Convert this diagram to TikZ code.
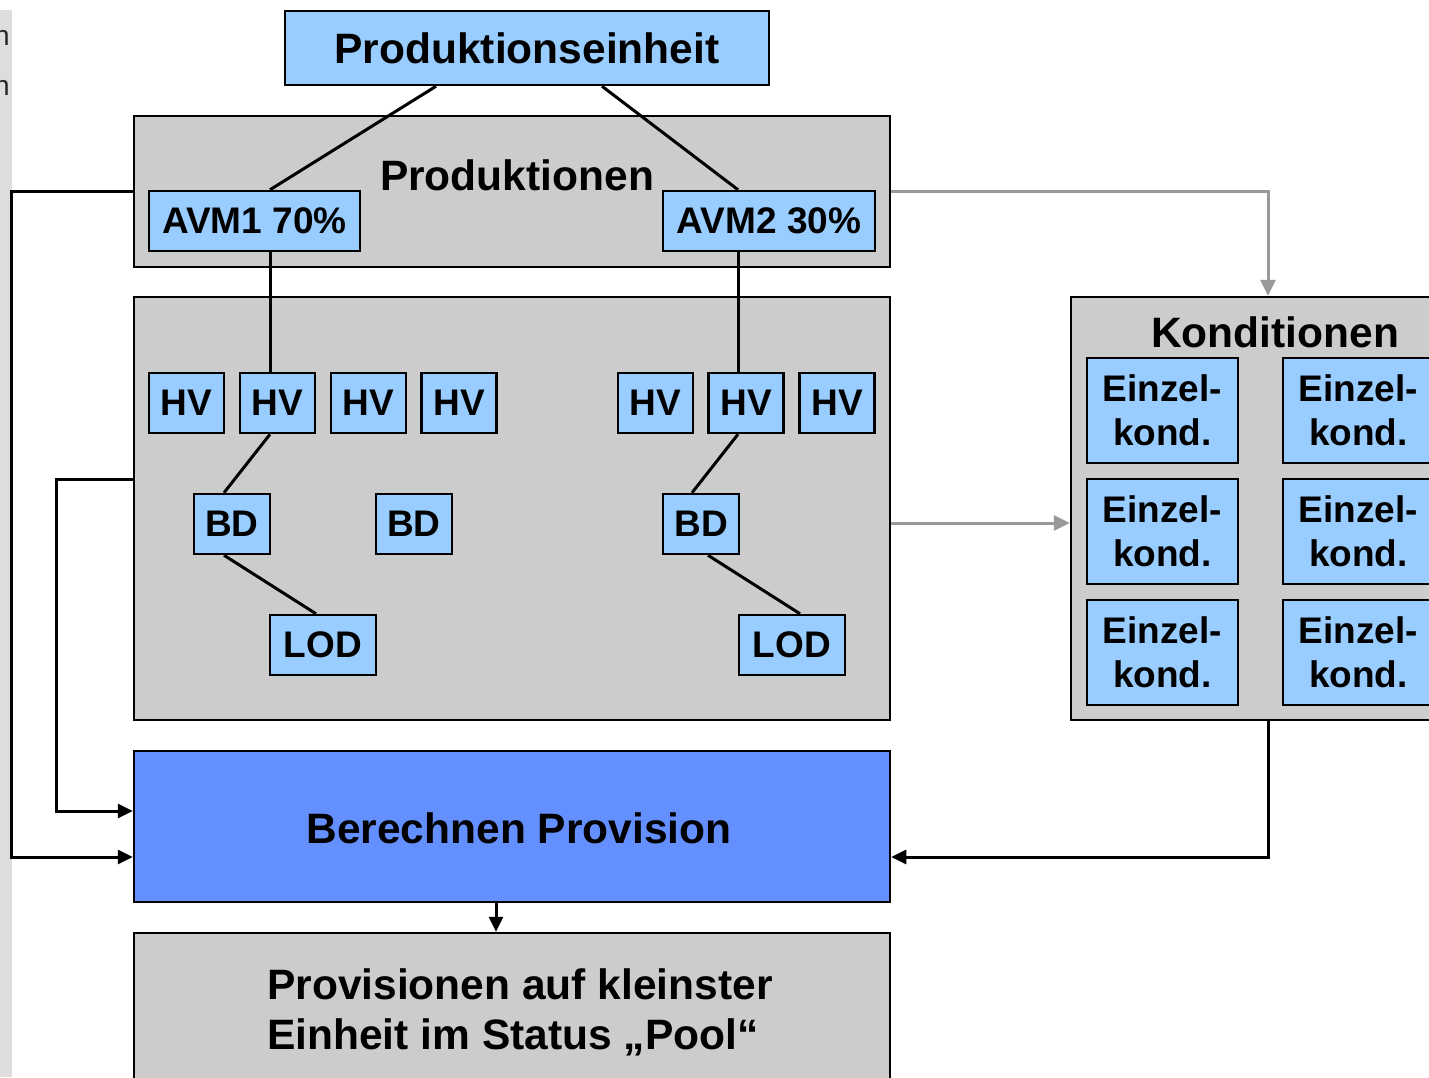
\documentclass[tikz,border=0pt]{standalone}
\usepackage{fontspec}
\setmainfont{Liberation Sans}
\usetikzlibrary{arrows.meta}
\definecolor{hellblau}{HTML}{99CCFF}
\definecolor{grau}{HTML}{CCCCCC}
\definecolor{blau}{HTML}{648FFF}
\definecolor{pfeilgrau}{HTML}{999999}
\definecolor{streifen}{HTML}{DDDDDD}
\begin{document}
\begin{tikzpicture}[x=1pt, y=-1pt, line join=miter, font=\bfseries\fontsize{42.5}{50}\selectfont,
		kasten/.style={draw, line width=2.5pt, fill=hellblau, inner sep=0pt, minimum height=60pt, font=\bfseries\fontsize{37}{44}\selectfont},
		behaelter/.style={draw, line width=2.5pt, fill=grau, inner sep=0pt},
		linie/.style={line width=3pt},
		pfeil/.style={line width=3pt, -{Triangle[length=15pt,width=14pt]}},
		graupfeil/.style={line width=3pt, pfeilgrau, -{Triangle[length=16pt,width=15pt]}}]
			\useasboundingbox (0,0) rectangle (1429,1077);
			\fill[white] (0,0) rectangle (1429,1077);
			\fill[streifen] (0,10) rectangle (12,1077);
			\node[anchor=base east, inner sep=0pt, font=\fontsize{28}{30}\selectfont, text=black!85] (na) at (10,45) {n};
			\node[anchor=base east, inner sep=0pt, font=\fontsize{28}{30}\selectfont, text=black!85] (nb) at (10,95) {n};
			% Behaelter
			\node[behaelter, minimum width=756pt, minimum height=151pt] (prods) at (512,191.5) {};
			\node[behaelter, minimum width=756pt, minimum height=423pt] (struk) at (512,508.5) {};
			\node[behaelter, minimum width=408pt, minimum height=423pt] (kond) at (1275,508.5) {};
			\node[behaelter, fill=blau, minimum width=756pt, minimum height=151pt] (berech) at (512,826.5) {};
			\node[behaelter, minimum width=756pt, minimum height=220pt] (pool) at (512,1043) {};
			\node[anchor=base, inner sep=0pt] (prodtext) at (517,190) {Produktionen};
			\node[anchor=base, inner sep=0pt] (kondtext) at (1275,347) {Konditionen};
			\node[anchor=base, inner sep=0pt] (berechtext) at (519,843) {Berechnen Provision};
			\node[anchor=north west, inner sep=0pt, align=left] (pooltext) at (267,968) {Provisionen auf kleinster\\Einheit im Status „Pool“};
			% Kaesten
			\node[kasten, minimum width=484pt, minimum height=74pt, font=\bfseries\fontsize{42.5}{50}\selectfont] (peinh) at (527,48) {Produktionseinheit};
			\node[kasten, minimum width=211pt] (avma) at (254.5,221) {AVM1 70\%};
			\node[kasten, minimum width=212pt] (avmb) at (769,221) {AVM2 30\%};
			\node[kasten, minimum width=75pt] (hva) at (186.5,403) {HV};
			\node[kasten, minimum width=75pt] (hvb) at (277.5,403) {HV};
			\node[kasten, minimum width=75pt] (hvc) at (368.5,403) {HV};
			\node[kasten, minimum width=75pt] (hvd) at (459,403) {HV};
			\node[kasten, minimum width=75pt] (hve) at (655.5,403) {HV};
			\node[kasten, minimum width=75pt] (hvf) at (746,403) {HV};
			\node[kasten, minimum width=75pt] (hvg) at (837,403) {HV};
			\node[kasten, minimum width=76pt] (bda) at (232,524) {BD};
			\node[kasten, minimum width=76pt] (bdb) at (414,524) {BD};
			\node[kasten, minimum width=76pt] (bdc) at (701,524) {BD};
			\node[kasten, minimum width=106pt] (loda) at (323,645) {LOD};
			\node[kasten, minimum width=106pt] (lodb) at (792,645) {LOD};
			\node[kasten, minimum width=151pt, minimum height=105pt, align=center] (eka) at (1162.5,410.5) {Einzel-\\kond.};
			\node[kasten, minimum width=151pt, minimum height=105pt, align=center] (ekb) at (1358.5,410.5) {Einzel-\\kond.};
			\node[kasten, minimum width=151pt, minimum height=105pt, align=center] (ekc) at (1162.5,531.5) {Einzel-\\kond.};
			\node[kasten, minimum width=151pt, minimum height=105pt, align=center] (ekd) at (1358.5,531.5) {Einzel-\\kond.};
			\node[kasten, minimum width=151pt, minimum height=105pt, align=center] (eke) at (1162.5,652.5) {Einzel-\\kond.};
			\node[kasten, minimum width=151pt, minimum height=105pt, align=center] (ekf) at (1358.5,652.5) {Einzel-\\kond.};
			% Verbindungen
			\draw[linie] ([xshift=-91pt]peinh.south) -- ([xshift=15.5pt]avma.north);
			\draw[linie] ([xshift=75pt]peinh.south) -- ([xshift=-31pt]avmb.north);
			\draw[linie] ([xshift=-7.5pt]hvb.north) -- ++(0,-122);
			\draw[linie] ([xshift=-8pt]hvf.north) -- ++(0,-122);
			\draw[linie] ([xshift=-7.5pt]hvb.south) -- ([xshift=-8pt]bda.north);
			\draw[linie] ([xshift=-8pt]bda.south) -- ([xshift=-7pt]loda.north);
			\draw[linie] ([xshift=-8pt]hvf.south) -- ([xshift=-9pt]bdc.north);
			\draw[linie] ([xshift=7pt]bdc.south) -- ([xshift=8pt]lodb.north);
			% Pfeile
			\draw[graupfeil] (prods.east) -| ([xshift=-7pt]kond.north);
			\draw[graupfeil] ([yshift=-14.5pt]struk.east) -- ([yshift=-14.5pt]kond.west);
			\draw[pfeil] ([xshift=-7pt]kond.south) |- ([yshift=-30.5pt]berech.east);
			\draw[pfeil] (prods.west) -- ++(-121,0) |- ([yshift=-30.5pt]berech.west);
			\draw[pfeil] ([yshift=29.5pt]struk.west) -- ++(-76,0) |- ([yshift=15.5pt]berech.west);
			\draw[pfeil] ([xshift=-16pt]berech.south) -- ([xshift=-16pt]pool.north);
		\end{tikzpicture}
\end{document}
